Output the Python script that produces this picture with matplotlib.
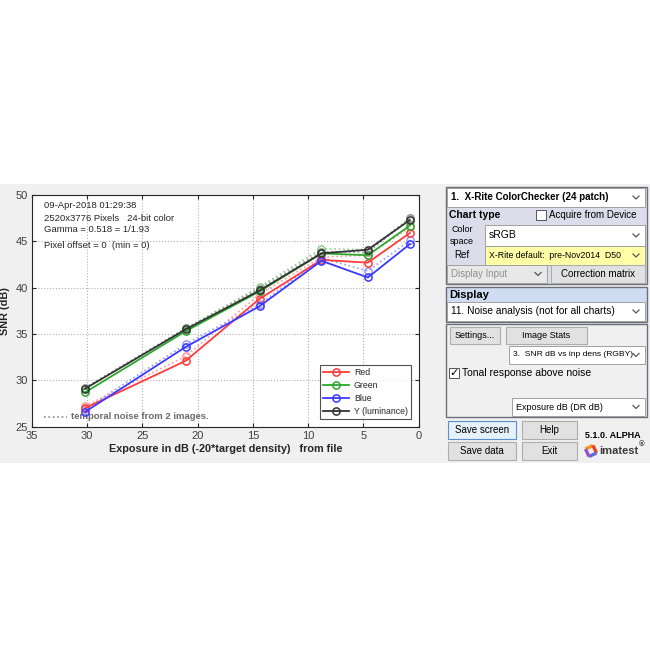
import matplotlib
matplotlib.use("Agg")
import matplotlib.pyplot as plt
from matplotlib.patches import Rectangle
from matplotlib.lines import Line2D

plt.rcParams['font.family'] = ['Liberation Sans', 'DejaVu Sans']

# ---------------- data ----------------
exposure_db = [30.2, 21.1, 14.4, 8.8, 4.6, 0.8]
snr_red = [27.0, 32.1, 38.8, 43.0, 42.7, 45.9]
snr_green = [28.7, 35.3, 39.6, 43.7, 43.5, 46.7]
snr_blue = [26.6, 33.6, 38.0, 42.9, 41.1, 44.7]
snr_y = [29.1, 35.5, 39.7, 43.7, 44.1, 47.3]
tmp_red = [27.2, 32.6, 39.3, 43.3, 43.5, 46.5]
tmp_green = [29.2, 35.6, 40.1, 44.2, 44.1, 47.5]
tmp_blue = [26.9, 33.9, 38.2, 43.2, 41.8, 45.1]
tmp_y = [29.2, 35.6, 39.9, 43.9, 43.8, 47.5]
series_names = ['Red', 'Green', 'Blue', 'Y (luminance)']
x_ticks = [35, 30, 25, 20, 15, 10, 5, 0]
y_ticks = [25, 30, 35, 40, 45, 50]
info_lines = ['09-Apr-2018 01:29:38', '2520x3776 Pixels   24-bit color',
              'Gamma = 0.518 = 1/1.93', 'Pixel offset = 0  (min = 0)']

W = H = 650
fig = plt.figure(figsize=(6.5, 6.5), dpi=100)
fig.patch.set_facecolor('white')

# overlay axes in pixel coordinates for the GUI
g = fig.add_axes([0, 0, 1, 1], zorder=0)
g.set_xlim(0, W)
g.set_ylim(H, 0)
g.axis('off')

def box(x, y, w, h, fc, ec='none', lw=0.8, z=1):
    g.add_patch(Rectangle((x, y), w, h, facecolor=fc, edgecolor=ec, lw=lw, zorder=z))

def txt(x, y, s, size=7, weight='normal', color='black', ha='left', z=5):
    g.text(x, y, s, fontsize=size, fontweight=weight, color=color, ha=ha, va='center', zorder=z)

def chevron(x, y, color='#555555'):
    g.plot([x - 3, x, x + 3], [y - 1.5, y + 1.5, y - 1.5], color=color, lw=0.9, zorder=6)

def dropdown(x, y, w, h, s, fc='white', size=7, tcolor='black', weight='normal'):
    box(x, y, w, h, fc, '#a0a0a0', 0.7, z=3)
    txt(x + 4, y + h / 2, s, size=size, color=tcolor, weight=weight)
    chevron(x + w - 9, y + h / 2)

def button(x, y, w, h, s, ec='#adadad', fc='#e1e1e1', size=7):
    box(x, y, w, h, fc, ec, 0.8, z=3)
    txt(x + w / 2, y + h / 2, s, size=size, ha='center')

# screenshot background
box(0, 184, W, 279, '#f0f0f0')

# panel 1: chart type
box(446, 187, 201, 97, '#dcdcea', '#6e6e7a', 1.0, z=2)
dropdown(447, 188, 198, 19, '1.  X-Rite ColorChecker (24 patch)', size=7, weight='bold')
txt(449, 215, 'Chart type', size=7.5, weight='bold')
box(536, 210, 10, 10, 'white', '#555555', 0.7, z=3)
txt(549, 215, 'Acquire from Device', size=7)
txt(462, 229, 'Color', size=6.5, ha='center')
txt(462, 241, 'space', size=6.5, ha='center')
dropdown(485, 225, 160, 21, 'sRGB', size=7.5)
txt(462, 255, 'Ref', size=7, ha='center')
dropdown(485, 246, 160, 19, 'X-Rite default:  pre-Nov2014  D50', fc='#ffffa8', size=6.3)
dropdown(447, 265, 100, 18, 'Display Input', fc='#e8e8e8', size=7, tcolor='#909090')
button(551, 265, 94, 18, 'Correction matrix', size=7)

# panel 2: display
box(446, 287, 201, 35, '#d0dcf2', '#6e6e7a', 1.0, z=2)
txt(449, 295, 'Display', size=8, weight='bold')
dropdown(447, 302, 198, 19, '11. Noise analysis (not for all charts)', size=7.3)

# panel 3
box(446, 324, 201, 93, '#f0f0f0', '#6e6e7a', 1.0, z=2)
button(450, 327, 50, 17, 'Settings...', size=6.5)
button(506, 327, 81, 17, 'Image Stats', size=6.5)
dropdown(509, 346, 136, 18, '3.  SNR dB vs inp dens (RGBY)', size=6.1)
box(449, 368, 10, 10, 'white', '#555555', 0.7, z=3)
g.text(454, 373, '\u2713', fontsize=8, ha='center', va='center', family='DejaVu Sans', zorder=6)
txt(462, 373, 'Tonal response above noise', size=7.5)
dropdown(512, 398, 133, 18, 'Exposure dB (DR dB)', size=6.5)

# bottom buttons
button(448, 421, 68, 18, 'Save screen', ec='#5a8fd0', fc='#e5f1fb', size=7)
button(522, 421, 55, 18, 'Help', size=7)
button(448, 442, 68, 18, 'Save data', size=7)
button(522, 442, 55, 18, 'Exit', size=7)
txt(585, 435, '5.1.0. ALPHA', size=6.5, weight='bold')
# imatest logo
cx, cy = 591, 451
pts = [(cx - 5.5, cy - 2), (cx + 2, cy - 5.5), (cx + 5.5, cy + 2), (cx - 2, cy + 5.5)]
cols = ['#f7941d', '#e8412c', '#5b6bd6', '#9b4fc9']
for i in range(4):
    a, b = pts[i], pts[(i + 1) % 4]
    g.plot([a[0], b[0]], [a[1], b[1]], color=cols[i], lw=2.4, solid_capstyle='butt', zorder=6)
txt(599, 451, 'imatest', size=8, weight='bold', color='#3a3a3a')
g.text(639, 445, '\u00ae', fontsize=5.5, fontweight='bold', color='#3a3a3a', ha='left', va='center', zorder=6)

# ---------------- chart ----------------
left, right, top, bottom = 32, 418.7, 195, 426.7
ax = fig.add_axes([left / W, 1 - bottom / H, (right - left) / W, (bottom - top) / H], zorder=2)
ax.set_facecolor('white')

solid_cols = ['#ff3b3b', '#2ca82c', '#3a3aff', '#333333']
light_cols = ['#ff9a9a', '#8fd08f', '#9a9aff', '#9a9a9a']
solid_data = [snr_red, snr_green, snr_blue, snr_y]
tmp_data = [tmp_red, tmp_green, tmp_blue, tmp_y]

for d, c in zip(tmp_data, light_cols):
    ax.plot(exposure_db, d, ls=':', color=c, lw=1.2, marker='o', ms=5.2,
            mfc='none', mec=c, mew=1.1, zorder=3)
handles = []
for d, c, n in zip(solid_data, solid_cols, series_names):
    h, = ax.plot(exposure_db, d, ls='-', color=c, lw=1.3, marker='o', ms=5.2,
                 mfc='none', mec=c, mew=1.1, label=n, zorder=4)
    handles.append(h)

ax.set_xlim(35, 0)
ax.set_ylim(25, 50)
ax.set_xticks(x_ticks)
ax.set_yticks(y_ticks)
ax.tick_params(direction='in', top=True, right=True, labelsize=8, length=3,
               colors='#262626', labelcolor='#404040', pad=3)
ax.grid(True, ls=':', color='#b0b0b0', lw=0.8)
for s in ax.spines.values():
    s.set_color('#262626')
    s.set_linewidth(0.8)
ax.set_xlabel('Exposure in dB (-20*target density)   from file', fontsize=7.8,
              fontweight='bold', color='#262626', labelpad=2)
ax.set_ylabel('SNR (dB)', fontsize=7.8, fontweight='bold', color='#262626', labelpad=4)

ys = [0.953, 0.898, 0.849, 0.784]
for s, yy in zip(info_lines, ys):
    ax.text(0.031, yy, s, transform=ax.transAxes, fontsize=6.8, color='#262626', va='center')

ax.add_line(Line2D([0.031, 0.09], [0.043, 0.043], transform=ax.transAxes, color='#8a8a8a',
                   ls=':', lw=1.2))
ax.text(0.1, 0.043, 'temporal noise from 2 images.', transform=ax.transAxes,
        fontsize=6.8, fontweight='bold', color='#6a6a6a', va='center')

leg = ax.legend(handles=handles, loc='lower right', fontsize=6.3, frameon=True,
                fancybox=False, edgecolor='#262626', handlelength=3.0,
                borderaxespad=0.9, labelspacing=0.45, borderpad=0.35, handletextpad=0.5)
leg.get_frame().set_linewidth(0.8)
for t in leg.get_texts():
    t.set_color('#262626')

fig.savefig('out.png', dpi=100, facecolor=fig.get_facecolor())
